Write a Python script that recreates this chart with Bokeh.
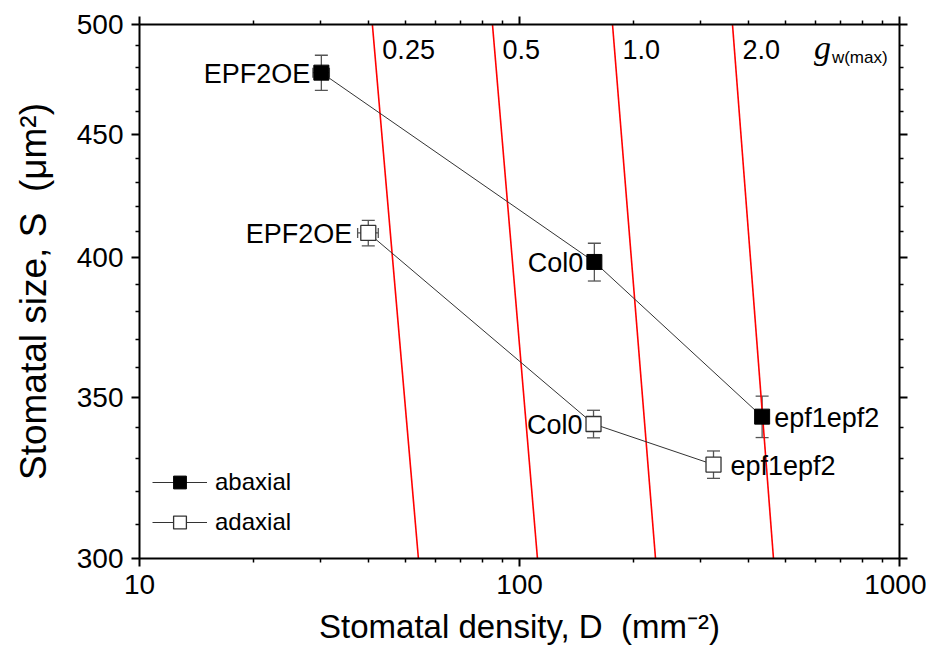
from bokeh.plotting import figure
from bokeh.models import (LogAxis, FixedTicker, Whisker, TeeHead, ColumnDataSource,
                          Legend, LegendItem, Range1d, PrintfTickFormatter)
from bokeh.core.properties import value
from bokeh.embed import file_html
from bokeh.resources import INLINE

# ---- data ----
genotypes = ["EPF2OE", "Col0", "epf1epf2"]
D_ab = [30.1, 157.4, 435.0]
S_ab = [477.5, 398.4, 343.6]
S_ab_err = [8.0, 7.2, 6.8]
D_ab_err = [1.5, 5.0, 12.0]
D_ad = [40.0, 156.6, 324.0]
S_ad = [409.6, 341.2, 328.2]
S_ad_err = [5.0, 4.5, 4.3]
D_ad_err = [2.5, 4.0, 8.0]

g_labels = ["0.25", "0.5", "1.0", "2.0"]
g_D_top = [41.0, 84.9, 175.7, 363.5]      # D where line meets S = 500
g_D_bottom = [54.2, 111.5, 228.0, 466.0]  # D where line meets S = 300
S_limits = [500, 300]

x_major = [10, 100, 1000]
x_minor = [20, 30, 40, 50, 60, 70, 80, 90, 200, 300, 400, 500, 600, 700, 800, 900]
y_major = [300, 350, 400, 450, 500]
y_minor = [310, 320, 330, 340, 360, 370, 380, 390, 410, 420, 430, 440, 460, 470, 480, 490]

FONT = "Liberation Sans"
NB = "\u00a0"

p = figure(x_axis_type="log", y_axis_type="log",
           x_range=Range1d(10, 1000), y_range=Range1d(300, 500),
           frame_width=760, frame_height=534,
           min_border_left=139, min_border_right=27, min_border_top=24, min_border_bottom=91,
           output_backend="svg", toolbar_location=None, background_fill_color="white")
p.grid.visible = False
p.outline_line_color = None

xt = FixedTicker(ticks=x_major, minor_ticks=x_minor)
yt = FixedTicker(ticks=y_major, minor_ticks=y_minor)

def style_axis(ax, labels=True):
    ax.axis_line_width = 2
    ax.axis_line_color = "black"
    ax.major_tick_line_width = 2
    ax.minor_tick_line_width = 1.5
    ax.major_tick_out = 8
    ax.major_tick_in = 0
    ax.minor_tick_out = 4
    ax.minor_tick_in = 0
    ax.major_label_text_font = FONT
    ax.major_label_text_color = "black"
    ax.axis_label_text_font = FONT
    ax.axis_label_text_font_style = "normal"
    ax.axis_label_text_color = "black"
    if not labels:
        ax.major_label_text_font_size = "2px"
        ax.major_label_text_alpha = 0
        ax.major_label_standoff = 0

xa = p.xaxis[0]
xa.ticker = xt
xa.formatter = PrintfTickFormatter(format="%d")
style_axis(xa)
xa.major_label_text_font_size = "28px"
xa.major_label_standoff = 8
xa.axis_label = "Stomatal density, D" + NB + " (mm\u207b\u00b2)"
xa.axis_label_text_font_size = "33px"
xa.axis_label_standoff = 11

ya = p.yaxis[0]
ya.ticker = yt
ya.formatter = PrintfTickFormatter(format="%d")
style_axis(ya)
ya.major_label_text_font_size = "28px"
ya.major_label_standoff = 8
ya.axis_label = "Stomatal size, S" + NB + " (\u03bcm\u00b2)"
ya.axis_label_text_font_size = "37px"
ya.axis_label_standoff = 20

top = LogAxis(ticker=FixedTicker(ticks=x_major, minor_ticks=x_minor),
              formatter=PrintfTickFormatter(format="%d"))
style_axis(top, labels=False)
p.add_layout(top, "above")
right = LogAxis(ticker=FixedTicker(ticks=y_major, minor_ticks=y_minor),
                formatter=PrintfTickFormatter(format="%d"))
style_axis(right, labels=False)
p.add_layout(right, "right")

# constant g_w(max) lines
for lab, dt, db in zip(g_labels, g_D_top, g_D_bottom):
    p.line([dt, db], S_limits, line_color="red", line_width=1.6)
gsrc = ColumnDataSource(dict(x=g_D_top, y=[488] * len(g_D_top), t=g_labels))
p.text(x="x", y="y", text="t", source=gsrc, x_offset=10,
       text_font=value(FONT), text_font_size="27px", text_baseline="middle",
       text_align="left", text_color="black")
p.text(x=[660], y=[489], text=["g"], text_font=value("Liberation Serif"),
       text_font_style="italic", text_font_size="34px", text_baseline="middle",
       text_align="right", text_color="black")
p.text(x=[660], y=[484.5], text=["w(max)"], text_font=value(FONT), x_offset=1,
       text_font_size="17px", text_baseline="middle", text_align="left", text_color="black")

ab = ColumnDataSource(dict(x=D_ab, y=S_ab,
                           yl=[s - e for s, e in zip(S_ab, S_ab_err)],
                           yu=[s + e for s, e in zip(S_ab, S_ab_err)],
                           xl=[d - e for d, e in zip(D_ab, D_ab_err)],
                           xu=[d + e for d, e in zip(D_ab, D_ab_err)],
                           t=genotypes))
ad = ColumnDataSource(dict(x=D_ad, y=S_ad,
                           yl=[s - e for s, e in zip(S_ad, S_ad_err)],
                           yu=[s + e for s, e in zip(S_ad, S_ad_err)],
                           xl=[d - e for d, e in zip(D_ad, D_ad_err)],
                           xu=[d + e for d, e in zip(D_ad, D_ad_err)],
                           t=genotypes))

line_ab = p.line("x", "y", source=ab, line_color="#333333", line_width=1)
line_ad = p.line("x", "y", source=ad, line_color="#333333", line_width=1)

ERR = "#555555"
for src in (ab, ad):
    wv = Whisker(base="x", lower="yl", upper="yu", dimension="height", source=src,
                 line_color=ERR, line_width=1.3, level="underlay",
                 upper_head=TeeHead(size=13, line_color=ERR, line_width=1.3),
                 lower_head=TeeHead(size=13, line_color=ERR, line_width=1.3))
    wh = Whisker(base="y", lower="xl", upper="xu", dimension="width", source=src,
                 line_color=ERR, line_width=1.3, level="underlay",
                 upper_head=TeeHead(size=10, line_color=ERR, line_width=1.3),
                 lower_head=TeeHead(size=10, line_color=ERR, line_width=1.3))
    p.add_layout(wv)
    p.add_layout(wh)

sq_ab = p.scatter("x", "y", source=ab, marker="square", size=15,
                  fill_color="black", line_color="black", line_width=1)
sq_ad = p.scatter("x", "y", source=ad, marker="square", size=15,
                  fill_color="white", line_color="#333333", line_width=1.3)

# data labels
lab_ab_off = [-11, -11, 12]
lab_ad_off = [-16, -11, 17]
ab_l = ColumnDataSource(dict(x=D_ab, y=S_ab, t=genotypes, xo=lab_ab_off,
                             al=["right", "right", "left"]))
ad_l = ColumnDataSource(dict(x=D_ad, y=S_ad, t=genotypes, xo=lab_ad_off,
                             al=["right", "right", "left"]))
for src in (ab_l, ad_l):
    p.text(x="x", y="y", text="t", source=src, x_offset="xo", y_offset=1,
           text_align="al", text_baseline="middle", text_font=value(FONT),
           text_font_size="27px", text_color="black")

legend = Legend(items=[LegendItem(label="abaxial", renderers=[line_ab, sq_ab]),
                       LegendItem(label="adaxial", renderers=[line_ad, sq_ad])],
                location=(13, 20), glyph_width=55, glyph_height=32, label_height=32,
                spacing=8, padding=0, margin=0, border_line_color=None,
                background_fill_alpha=0, label_text_font=FONT, label_text_color="black",
                label_text_font_size="24px", label_standoff=8)
p.add_layout(legend, "center")

open("out.html", "w").write(file_html(p, INLINE))
